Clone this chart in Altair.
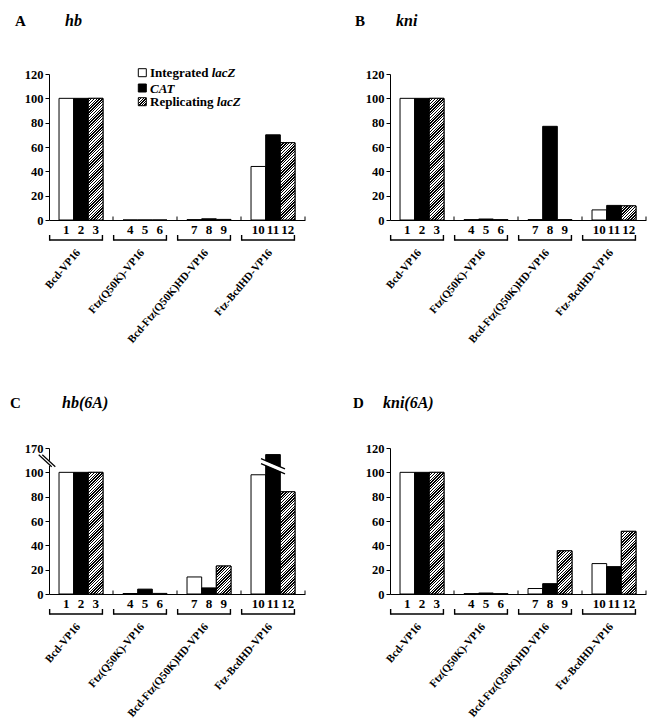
import altair as alt
import pandas as pd

# ---------------- data ----------------
panel_letters = ["A", "B", "C", "D"]
panel_genes = ["hb", "kni", "hb(6A)", "kni(6A)"]
constructs = ["Bcd-VP16", "Ftz(Q50K)-VP16", "Bcd-Ftz(Q50K)HD-VP16", "Ftz-BcdHD-VP16"]
series_upright = ["Integrated ", "", "Replicating "]
series_italic = ["lacZ", "CAT", "lacZ"]
lane_labels = [str(i) for i in range(1, 13)]
y_ticks = [0, 20, 40, 60, 80, 100, 120]
broken_top_label = 170  # panel C: the 120 position stands for 170 (broken axis)

values_A = [100, 100, 100, 0, 0, 0, 0.3, 1.0, 0.5, 44, 70, 63.5]
values_B = [100, 100, 100, 0.3, 0.8, 0.3, 0.3, 77, 0.3, 8.3, 12, 11.6]
values_C = [100, 100, 100, 0.4, 4, 0.5, 14, 5, 23, 98, 151, 84]
values_D = [100, 100, 100, 0.3, 0.8, 0.3, 4.5, 8.5, 35.5, 25, 22.5, 51.5]
panel_values = [values_A, values_B, values_C, values_D]
panel_broken = [False, False, True, False]

# ---------------- layout / style ----------------
SERIF = "Liberation Serif"
W, H = 256, 146
YMAX = 120
CAT_PX = W / 4
PX = H / YMAX
OFF = 0.1565   # bar-group start inside a category (category units)
BW = 0.229     # bar width (category units)
FACTOR = (broken_top_label - 100) / (YMAX - 100)

# per-panel title placement relative to the plot's top-left corner (px)
title_pos = [
    {"lx": -34, "gx": 16, "y": -48},
    {"lx": -35, "gx": 6, "y": -48.5},
    {"lx": -39, "gx": 13, "y": -40},
    {"lx": -37, "gx": -7, "y": -40},
]


def plotted(v):
    return v if v <= 100 else 100 + (v - 100) / FACTOR


def hatch(w, h, p=2.8, frac=0.5):
    s = w + h
    L = (w * w + h * h) / s
    stops = []
    pos = 0.0
    while pos < s - 1e-9:
        a = pos / s
        b = min((pos + frac * p) / s, 1.0)
        c = min((pos + p) / s, 1.0)
        stops += [
            {"offset": a, "color": "black"},
            {"offset": b, "color": "black"},
            {"offset": b, "color": "white"},
            {"offset": c, "color": "white"},
        ]
        pos += p
    return {"gradient": "linear", "x1": 0, "y1": 0, "x2": w / L, "y2": h / L, "stops": stops}


xs = alt.Scale(domain=[0, 4], nice=False, zero=False)
ys = alt.Scale(domain=[0, YMAX], nice=False, zero=True)
xaxis = alt.Axis(ticks=False, labels=False, grid=False, title=None,
                 domainColor="black", domainWidth=1)


def make_panel(k):
    vals = panel_values[k]
    df = pd.DataFrame({
        "lane": lane_labels,
        "group": [i // 3 for i in range(12)],
        "series": [i % 3 for i in range(12)],
        "value": vals,
    })
    yaxis_kw = dict(values=y_ticks, title=None, grid=False, tickSize=4, tickColor="black",
                    domainColor="black", labelFont=SERIF, labelFontWeight="bold",
                    labelFontSize=12.5, labelColor="black", labelPadding=2)
    if panel_broken[k]:
        yaxis_kw["labelExpr"] = f"datum.value == {YMAX} ? '{broken_top_label}' : datum.label"
    yaxis = alt.Axis(**yaxis_kw)

    def X(f):
        return alt.X(f, scale=xs, axis=xaxis)

    def Y(f):
        return alt.Y(f, scale=ys, axis=yaxis)

    base = alt.Chart(df).transform_calculate(
        x0=f"datum.group + {OFF} + datum.series * {BW}",
        x1=f"datum.group + {OFF} + (datum.series + 1) * {BW}",
        xc=f"datum.group + {OFF} + (datum.series + 0.5) * {BW}",
        plot=f"datum.value <= 100 ? datum.value : 100 + (datum.value - 100) / {FACTOR}",
        fillc="datum.series == 1 ? 'black' : 'white'",
    )
    layers = []
    layers.append(base.mark_bar(stroke="black", strokeWidth=1).encode(
        x=X("x0:Q"), x2="x1:Q",
        y=Y("plot:Q"), y2=alt.datum(0),
        fill=alt.Fill("fillc:N", scale=None),
    ))
    # hatched (replicating lacZ) bars
    for i in range(12):
        if i % 3 == 2 and plotted(vals[i]) * PX > 1.5:
            grad = hatch(BW * CAT_PX, plotted(vals[i]) * PX)
            layers.append(base.transform_filter(f"datum.lane == '{lane_labels[i]}'")
                          .mark_bar(fill=grad, stroke="black", strokeWidth=1).encode(
                x=X("x0:Q"), x2="x1:Q", y=Y("plot:Q"), y2=alt.datum(0)))
    # category boundary ticks on x axis
    tdf = pd.DataFrame({"b": [1, 2, 3, 4]})
    layers.append(alt.Chart(tdf).mark_rule(color="black", strokeWidth=1).encode(
        x=X("b:Q"), y=alt.value(H), y2=alt.value(H - 3.5)))
    # lane numbers
    layers.append(base.mark_text(font=SERIF, fontWeight="bold", fontSize=13,
                                 baseline="alphabetic", color="black").encode(
        x=X("xc:Q"), y=alt.value(H + 14), text="lane:N"))
    # brackets + construct labels
    gdf = pd.DataFrame({"construct": constructs, "group": list(range(4))})
    gbase = alt.Chart(gdf).transform_calculate(
        bl="datum.group + 0.01", br="datum.group + 0.835", lx="datum.group + 0.46")
    layers.append(gbase.mark_rule(color="black", strokeWidth=1.4).encode(
        x=X("bl:Q"), x2="br:Q", y=alt.value(H + 20)))
    for f in ["bl", "br"]:
        layers.append(gbase.mark_rule(color="black", strokeWidth=1.4).encode(
            x=X(f"{f}:Q"), y=alt.value(H + 15), y2=alt.value(H + 20.7)))
    layers.append(gbase.mark_text(font=SERIF, fontWeight="bold", fontSize=11, angle=310,
                                  align="right", baseline="middle", color="black").encode(
        x=X("lx:Q"), y=alt.value(H + 31), text="construct:N"))
    # panel letter and gene title
    tp = title_pos[k]
    tt = alt.Chart(pd.DataFrame({"letter": [panel_letters[k]], "gene": [panel_genes[k]]}))
    layers.append(tt.mark_text(font=SERIF, fontWeight="bold", fontSize=15, align="left",
                               baseline="alphabetic", color="black").encode(
        x=alt.value(tp["lx"]), y=alt.value(tp["y"]), text="letter:N"))
    layers.append(tt.mark_text(font=SERIF, fontWeight="bold", fontStyle="italic", fontSize=16,
                               align="left", baseline="alphabetic", color="black").encode(
        x=alt.value(tp["gx"]), y=alt.value(tp["y"]), text="gene:N"))

    if panel_broken[k]:
        # break marks: on the y axis and on the tallest bar
        big = max(range(12), key=lambda i: vals[i])
        bxc = big // 3 + OFF + (big % 3 + 0.5) * BW
        u = 1 / CAT_PX
        v = 1 / PX
        yc_bar = 105
        yc_ax = 109.5
        segs = []
        segs.append((bxc - 9 * u, yc_bar + 3.85 * v, bxc + 9 * u, yc_bar - 3.85 * v, "white", 4.4))
        for d in (2.5, -2.5):
            segs.append((bxc - 12 * u, yc_bar + (5.1 + d) * v, bxc + 12 * u, yc_bar + (-5.1 + d) * v, "black", 1.2))
        axc = -2 * u
        segs.append((axc - 4 * u, yc_ax + 4 * v, axc + 4 * u, yc_ax - 4 * v, "white", 3.5))
        for d in (-1.8, 1.8):
            segs.append((axc + (-6.5 + d) * u, yc_ax + 6 * v, axc + (6.5 + d) * u, yc_ax - 6 * v, "black", 1.2))
        for (x1, y1, x2, y2, col, sw) in segs:
            sdf = pd.DataFrame({"x": [x1], "y": [y1], "x2": [x2], "y2": [y2]})
            layers.append(alt.Chart(sdf).mark_rule(color=col, strokeWidth=sw).encode(
                x=X("x:Q"), x2="x2:Q", y=Y("y:Q"), y2="y2:Q"))

    if k == 0:
        # manual legend
        ldf = pd.DataFrame({"up": series_upright, "it": series_italic, "row": [0, 1, 2]})
        rows_y = [-1.3, 14, 27.7]
        sw_x, sw = 89.3, 8
        for r in range(3):
            fill = ["white", "black", hatch(sw, sw, p=2.6)][r]
            layers.append(alt.Chart(ldf).transform_filter(f"datum.row == {r}").mark_rect(
                fill=fill, stroke="black", strokeWidth=1).encode(
                x=alt.value(sw_x), x2=alt.value(sw_x + sw),
                y=alt.value(rows_y[r] - sw / 2), y2=alt.value(rows_y[r] + sw / 2)))
        # Times bold advance widths (per 1000 em) for the upright prefixes
        tw = {"I": 389, "n": 556, "t": 333, "e": 444, "g": 500, "r": 444, "a": 500, "d": 556,
              " ": 250, "R": 722, "p": 556, "l": 278, "i": 278, "c": 444}
        fs = 13
        for r in range(3):
            up = series_upright[r]
            wpx = sum(tw.get(ch, 500) for ch in up) / 1000 * fs
            rc = alt.Chart(ldf).transform_filter(f"datum.row == {r}")
            if up:
                layers.append(rc.mark_text(font=SERIF, fontWeight="bold", fontSize=fs, align="left",
                                           baseline="middle", color="black").encode(
                    x=alt.value(101), y=alt.value(rows_y[r] + 0.5), text="up:N"))
            layers.append(rc.mark_text(font=SERIF, fontWeight="bold", fontStyle="italic", fontSize=fs,
                                       align="left", baseline="middle", color="black").encode(
                x=alt.value(101 + wpx), y=alt.value(rows_y[r] + 0.5), text="it:N"))
        # invisible anchor fixing the top-left of the page content
        layers.append(alt.Chart(pd.DataFrame({"a": [0]})).mark_rule(opacity=0, strokeWidth=1).encode(
            x=alt.value(-41), y=alt.value(-66), y2=alt.value(-60)))

    return alt.layer(*layers).properties(width=W, height=H)


panels = [make_panel(k) for k in range(4)]
chart = alt.concat(*panels, columns=2, spacing={"row": 228, "column": 85}, bounds="flush").properties(
    padding=0
).configure_view(stroke=None)

chart.save("out.html", embed_options={"renderer": "svg", "actions": False})
